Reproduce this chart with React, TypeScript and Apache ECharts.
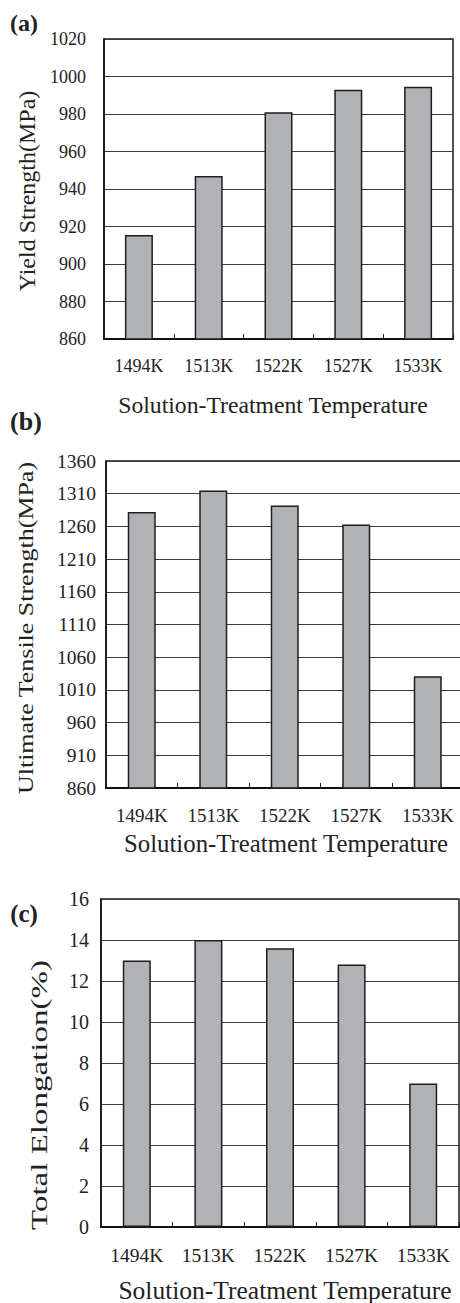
import React, { useEffect, useRef } from "react";
import * as echarts from "echarts";

const categories = ["1494K", "1513K", "1522K", "1527K", "1533K"];
const yieldStrength = [915.5, 947, 981, 993, 994.5];
const tensileStrength = [1282, 1315, 1292, 1263, 1031];
const elongation = [13.0, 14.0, 13.6, 12.8, 7.0];

const yieldAxis = [860, 1020, 20];
const tensileAxis = [860, 1360, 50];
const elongationAxis = [0, 16, 2];

const panelLabels = ["(a)", "(b)", "(c)"];
const yTitles = ["Yield Strength(MPa)", "Ultimate Tensile Strength(MPa)", "Total Elongation(%)"];
const xTitle = "Solution-Treatment Temperature";

const FONT = "Liberation Serif";
const INK = "#222222";

export default function App() {
  const ref = useRef<HTMLDivElement>(null);
  useEffect(() => {
    document.body.style.margin = "0";
    if (!ref.current) return;
    const chart = echarts.init(ref.current, undefined, { renderer: "svg" });

    const grids = [
      { left: 104, top: 39, width: 349, height: 300 },
      { left: 106, top: 461, width: 357.5, height: 327 },
      { left: 101, top: 899, width: 358, height: 328 },
    ];
    const axes = [yieldAxis, tensileAxis, elongationAxis];
    const data = [yieldStrength, tensileStrength, elongation];
    const xLabelSize = [18, 19, 19.5];
    const xLabelMargin = [18, 18, 18];
    const yLabelSize = [18, 19.5, 20];
    const yLabelMargin = [18, 10, 12];

    const txt = (x: number, y: number, text: string, size: number, opts: any = {}) => ({
      type: "text",
      x,
      y,
      rotation: opts.rotation || 0,
      scaleX: opts.scaleX || 1,
      style: {
        text,
        fontFamily: FONT,
        fontSize: size,
        fontWeight: opts.bold ? "bold" : "normal",
        fill: INK,
        align: "center",
        verticalAlign: "middle",
      },
    });

    const option: any = {
      animation: false,
      backgroundColor: "#ffffff",
      grid: grids.map((g) => ({
        ...g,
        show: true,
        borderColor: "#1a1a1a",
        borderWidth: 1.5,
        backgroundColor: "transparent",
        containLabel: false,
        outerBoundsMode: "none",
      })),
      xAxis: grids.map((_, i) => ({
        type: "category",
        gridIndex: i,
        data: categories,
        boundaryGap: true,
        axisLine: { show: true, lineStyle: { color: "#111", width: 2 } },
        axisTick: { show: true, inside: true, length: 5, alignWithLabel: false, lineStyle: { color: "#222", width: 1 } },
        axisLabel: {
          color: INK,
          fontFamily: FONT,
          fontSize: xLabelSize[i],
          margin: xLabelMargin[i],
        },
        splitLine: { show: false },
      })),
      yAxis: grids.map((_, i) => ({
        type: "value",
        gridIndex: i,
        min: axes[i][0],
        max: axes[i][1],
        interval: axes[i][2],
        axisLine: { show: true, lineStyle: { color: "#111", width: 1.5 } },
        axisTick: { show: false },
        axisLabel: {
          color: INK,
          fontFamily: FONT,
          fontSize: yLabelSize[i],
          margin: yLabelMargin[i],
          formatter: (v: number) => String(v),
        },
        splitLine: { show: true, lineStyle: { color: "#3a3a3a", width: 1 } },
      })),
      series: data.map((d, i) => ({
        type: "bar",
        xAxisIndex: i,
        yAxisIndex: i,
        data: d,
        barWidth: 28,
        itemStyle: { color: "#b1b2b6", borderColor: "#1e1e1e", borderWidth: 1.5 },
      })),
      graphic: [
        txt(24, 23, panelLabels[0], 24, { bold: true }),
        txt(26, 421, panelLabels[1], 26, { bold: true }),
        txt(24, 913, panelLabels[2], 25, { bold: true }),
        txt(27, 191, yTitles[0], 24, { rotation: Math.PI / 2 }),
        txt(26, 628, yTitles[1], 22, { rotation: Math.PI / 2, scaleX: 1.18 }),
        txt(39, 1095, yTitles[2], 24, { rotation: Math.PI / 2, scaleX: 1.375 }),
        txt(273, 405, xTitle, 23.7),
        txt(286, 843, xTitle, 24.8),
        txt(285, 1290, xTitle, 25.5),
      ],
    };
    chart.setOption(option);
    return () => chart.dispose();
  }, []);
  return <div ref={ref} style={{ width: 460, height: 1303 }} />;
}
